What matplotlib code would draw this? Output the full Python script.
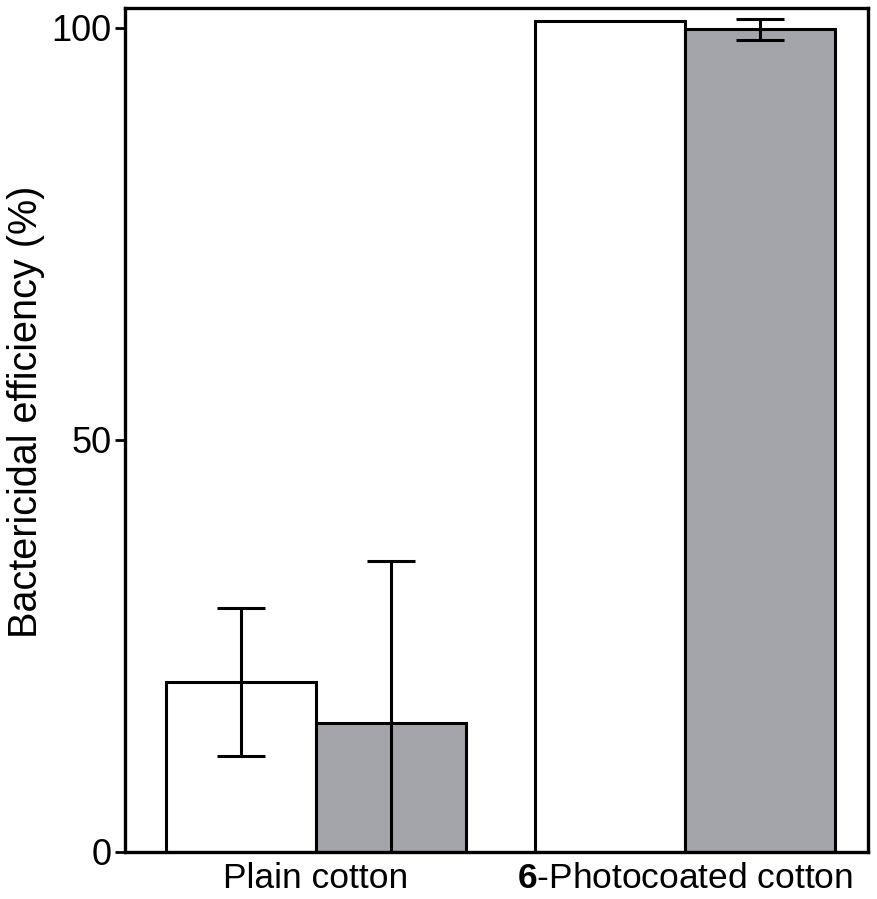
import numpy as np
import matplotlib
matplotlib.use('Agg')
import matplotlib.pyplot as plt

plt.rcParams['font.family'] = ['Liberation Sans', 'DejaVu Sans']
plt.rcParams['mathtext.fontset'] = 'custom'
plt.rcParams['mathtext.rm'] = 'Liberation Sans'
plt.rcParams['mathtext.bf'] = 'Liberation Sans:bold'

# bactericidal efficiency (%) per fabric, two conditions each
groups = ['Plain cotton', r'$\mathbf{6}$-Photocoated cotton']
white_vals = [20.6, 100.8]
white_err = [9.0, 0.0]
gray_vals = [15.6, 99.8]
gray_err = [19.7, 1.3]

group_x = np.array([0.0, 2.46])
width = 1.0

fig = plt.figure(figsize=(8.78, 8.99), dpi=100)
ax = fig.add_axes([0.1424, 0.0523, 0.8462, 0.9388])

ax.bar(group_x - width / 2, white_vals, width, color='white',
       edgecolor='black', linewidth=2.2, zorder=2)
ax.bar(group_x + width / 2, gray_vals, width, color='#a4a4ab',
       edgecolor='black', linewidth=2.2, zorder=2)

# error bars (the photocoated white bar has none)
has_err = np.array(white_err) > 0
ax.errorbar((group_x - width / 2)[has_err], np.array(white_vals)[has_err],
            yerr=np.array(white_err)[has_err], fmt='none', ecolor='black',
            elinewidth=2.2, capsize=17, capthick=2.2, zorder=3)
ax.errorbar(group_x + width / 2, gray_vals, yerr=gray_err, fmt='none',
            ecolor='black', elinewidth=2.2, capsize=17, capthick=2.2, zorder=3)

ax.set_xlim(-1.27, 3.68)
ax.set_ylim(0, 102.4)
ax.set_yticks([0, 50, 100])
ax.set_xticks(group_x)
ax.set_xticklabels(groups)

ax.tick_params(axis='y', direction='out', length=7, width=2.0,
               labelsize=26, pad=3)
ax.tick_params(axis='x', length=0, labelsize=25.5, pad=7)

for sp in ax.spines.values():
    sp.set_linewidth(2.4)

ax.set_ylabel('Bactericidal efficiency (%)', fontsize=28.5)
ax.yaxis.set_label_coords(-0.108, 0.522)

fig.savefig('out.png', dpi=100)
